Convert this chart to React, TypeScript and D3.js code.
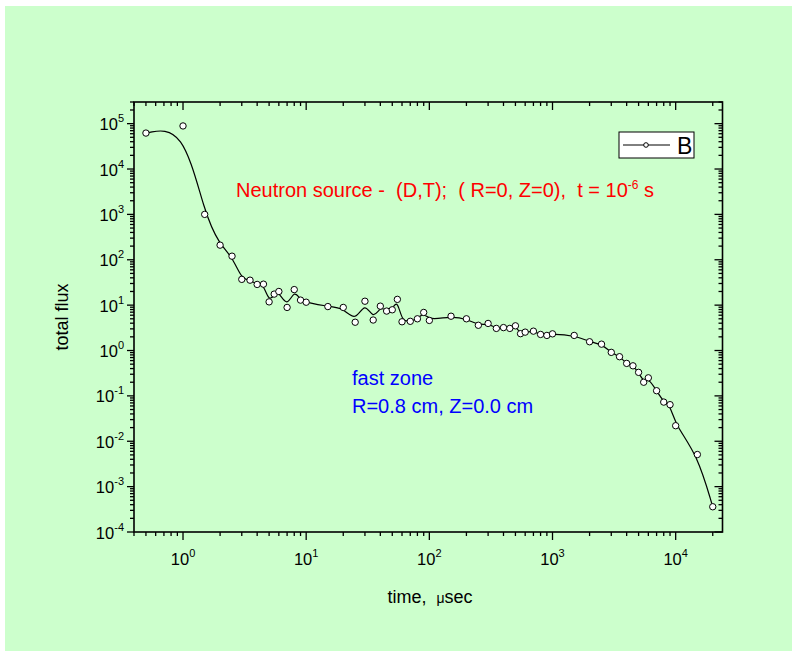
import * as d3 from 'd3';
import React from 'react';

// time (usec) and total flux
const times = [0.5, 1, 1.5, 2, 2.5, 3, 3.5, 4, 4.5, 5, 5.5, 6, 7, 8, 9, 10, 15, 20, 25, 30, 35, 40, 45, 50, 55, 60, 70, 80, 90, 100,
  150, 200, 250, 300, 350, 400, 450, 500, 550, 600, 700, 800, 900, 1000, 1500, 2000, 2500, 3000, 3500, 4000, 4500, 5000, 5500, 6000,
  7000, 8000, 9000, 10000, 15000, 20000];
const flux = [6.2e4, 8.9e4, 1000, 210, 120, 37, 35.5, 28.6, 29, 11.8, 17.5, 20, 8.9, 22, 12.9, 11.6, 9.3, 8.9, 4.2, 12.2, 4.7, 9.5, 7.4, 7.9, 13.4, 4.3,
  4.4, 5.0, 6.9, 4.6, 5.7, 5.0, 3.6, 3.95, 3.07, 3.2, 3.07, 3.5, 2.35, 2.54, 2.67, 2.26, 2.15, 2.33, 2.15, 1.56, 1.38, 0.91, 0.73,
  0.52, 0.46, 0.33, 0.20, 0.25, 0.13, 0.073, 0.064, 0.022, 0.0051, 3.6e-4];

const xMajor = [0, 1, 2, 3, 4];
const yMajor = [5, 4, 3, 2, 1, 0, -1, -2, -3, -4];
const seriesName = 'B';

const FONT = '"Liberation Sans", Arial, sans-serif';

const W = 792;
const H = 652;
const left = 134, right = 722.5, top = 102, bottom = 532;

export default function App() {
  const x = d3.scaleLog().domain([0.4, 24000]).range([left, right]);
  const y = d3.scaleLog().domain([1e-4, 3e5]).range([bottom, top]);

  const data = times.map((t, i) => ({ t, f: flux[i] }));
  const line = d3.line<{ t: number; f: number }>()
    .x(d => x(d.t))
    .y(d => y(d.f))
    .curve(d3.curveBasis);

  // minor ticks
  const xMinor: number[] = [];
  for (let e = -1; e <= 4; e++) {
    for (let m = 2; m <= 9; m++) {
      const v = m * Math.pow(10, e);
      if (v >= 0.4 && v <= 24000) xMinor.push(v);
    }
  }
  const yMinor: number[] = [];
  for (let e = -4; e <= 5; e++) {
    for (let m = 2; m <= 9; m++) {
      const v = m * Math.pow(10, e);
      if (v <= 3e5) yMinor.push(v);
    }
  }

  const stroke = '#000';
  const pre = { whiteSpace: 'pre' as const };

  return (
    <svg width={W} height={H} style={{ position: 'absolute', left: 0, top: 0, display: 'block' }} fontFamily={FONT}>
      <rect x={5} y={6} width={W - 5} height={645} fill="#CCFFCC" />

      {/* frame */}
      <rect x={left} y={top} width={right - left} height={bottom - top} fill="none" stroke={stroke} strokeWidth={1.6} />

      {/* bottom + top ticks */}
      {xMajor.map(e => {
        const px = x(Math.pow(10, e));
        return (
          <g key={'xm' + e}>
            <line x1={px} x2={px} y1={bottom} y2={bottom + 8} stroke={stroke} strokeWidth={1.3} />
            <line x1={px} x2={px} y1={top} y2={top + 8} stroke={stroke} strokeWidth={1.3} />
            <text x={px} y={565} textAnchor="middle" fontSize={16.5}>
              <tspan>10</tspan>
              <tspan dy={-8} fontSize={11}>{e}</tspan>
            </text>
          </g>
        );
      })}
      {xMinor.map(v => {
        const px = x(v);
        return (
          <g key={'xn' + v}>
            <line x1={px} x2={px} y1={bottom} y2={bottom + 4} stroke={stroke} strokeWidth={1.3} />
            <line x1={px} x2={px} y1={top} y2={top + 4} stroke={stroke} strokeWidth={1.3} />
          </g>
        );
      })}

      {/* left + right ticks */}
      {yMajor.map(e => {
        const py = y(Math.pow(10, e));
        return (
          <g key={'ym' + e}>
            <line x1={left - 7} x2={left} y1={py} y2={py} stroke={stroke} strokeWidth={1.3} />
            <line x1={right - 8} x2={right} y1={py} y2={py} stroke={stroke} strokeWidth={1.3} />
            <text x={124} y={py + 6.5} textAnchor="end" fontSize={16.5}>
              <tspan>10</tspan>
              <tspan dy={-8} fontSize={11}>{e}</tspan>
            </text>
          </g>
        );
      })}
      {yMinor.map(v => {
        const py = y(v);
        return (
          <g key={'yn' + v}>
            <line x1={left - 4} x2={left} y1={py} y2={py} stroke={stroke} strokeWidth={1.3} />
            <line x1={right - 4} x2={right} y1={py} y2={py} stroke={stroke} strokeWidth={1.3} />
          </g>
        );
      })}

      {/* axis titles */}
      <text x={430} y={603} textAnchor="middle" fontSize={18} style={pre}>
        <tspan>time,  </tspan>
        <tspan fontSize={14}>μ</tspan>
        <tspan>sec</tspan>
      </text>
      <text transform={`translate(68,${(top + bottom) / 2}) rotate(-90)`} textAnchor="middle" fontSize={18}>total flux</text>

      {/* curve + points */}
      <path d={line(data) || ''} fill="none" stroke="#000" strokeWidth={1.2} />
      {data.map((d, i) => (
        <circle key={i} cx={x(d.t)} cy={y(d.f)} r={3.2} fill="#fff" stroke="#000" strokeWidth={1} />
      ))}

      {/* legend */}
      <rect x={619} y={132} width={75} height={26} fill="#fff" stroke="#000" strokeWidth={1} />
      <line x1={623} x2={670} y1={145} y2={145} stroke="#000" strokeWidth={1} />
      <circle cx={646} cy={145} r={2.3} fill="#fff" stroke="#000" strokeWidth={1} />
      <text x={677} y={154} fontSize={23}>{seriesName}</text>

      {/* annotations */}
      <text x={236} y={197} fontSize={20} fill="#FF0000" style={pre}>
        <tspan>Neutron source -  (D,T);  ( R=0, Z=0),  t = 10</tspan>
        <tspan dy={-8} fontSize={12}>-6</tspan>
        <tspan dy={8}> s</tspan>
      </text>
      <text x={352} y={385} fontSize={20} fill="#0000FF">fast zone</text>
      <text x={352} y={413} fontSize={20} fill="#0000FF">R=0.8 cm, Z=0.0 cm</text>
    </svg>
  );
}
